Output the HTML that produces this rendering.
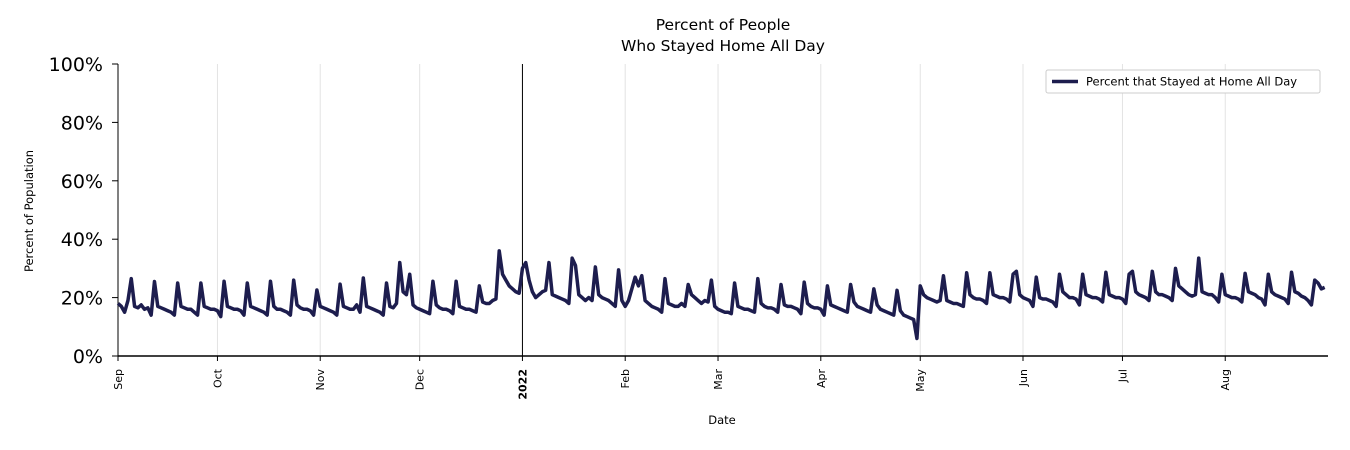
<!DOCTYPE html>
<html><head><meta charset="utf-8"><style>
body{margin:0;background:#fff}
svg{display:block;font-family:"DejaVu Sans","Liberation Sans",sans-serif}
</style></head><body>
<svg id="chart" width="1350" height="450" xmlns="http://www.w3.org/2000/svg">
<text x="723" y="30" text-anchor="middle" font-size="15.5">Percent of People</text>
<text x="723" y="51" text-anchor="middle" font-size="15.5">Who Stayed Home All Day</text>
<g id="grid"></g><g id="yaxis"></g><g id="xaxis"></g><g id="series"></g>
<text x="722" y="424" text-anchor="middle" font-size="11.5">Date</text>
<text transform="translate(33,211) rotate(-90)" text-anchor="middle" font-size="11.5">Percent of Population</text>
<g>
<rect x="1046" y="70" width="274" height="23" rx="2" fill="#fff" stroke="#ccc"/>
<line x1="1052" y1="81.5" x2="1078" y2="81.5" stroke="#1d1d4e" stroke-width="3.5"/>
<text x="1086" y="85.5" font-size="11.5">Percent that Stayed at Home All Day</text>
</g>
</svg>
<script>
const monthLabels=["Sep","Oct","Nov","Dec","2022","Feb","Mar","Apr","May","Jun","Jul","Aug"];
const monthDays=[0,30,61,91,122,153,181,212,242,273,303,334];
const yTicks=[0,20,40,60,80,100];
const values=[18,17,15,19,
26.5,17,16.5,17.5,16,16.5,14,
25.5,17,16.5,16,15.5,15,14,
25,17,16.5,16,16,15,14,
25,17,16.5,16,16,15.5,13.5,
25.6,17,16.5,16,16,15.5,14,
25,17,16.5,16,15.5,15,14,
25.6,17,16,16,15.5,15,14,
26,17.5,16.5,16,16,15.5,14,
22.6,17,16.5,16,15.5,15,14,
24.6,17,16.5,16,16,17.5,15,
26.7,17,16.5,16,15.5,15,14,
25,17,16.5,18,32,22,21,
28,17.5,16.5,16,15.5,15,14.5,
25.6,17.5,16.5,16,16,15.5,14.5,
25.6,17,16.5,16,16,15.5,15,
24,18.5,18,18,19,19.5,36,
28,26,24,23,22,21.5,30,
32,26,22,20,21,22,22.5,
32,21,20.5,20,19.5,19,18,
33.5,31,21,20,19,20,19,
30.5,21,20,19.5,19,18,17,
29.5,19,17,19,23,27,24,
27.5,19,18,17,16.5,16,15,
26.5,18,17.5,17,17,18,17,
24.5,21,20,19,18,19,18.5,
26,17,16,15.5,15,15,14.5,
25,17,16.5,16,16,15.5,15,
26.5,18,17,16.5,16.5,16,15,
24.5,17.5,17,17,16.5,16,14.5,
25.3,18,17,16.5,16.5,16,14,
24,17.5,17,16.5,16,15.5,15,
24.5,18.5,17,16.5,16,15.5,15,
23,17.5,16,15.5,15,14.5,14,
22.5,15.5,14,13.5,13,12.5,6,
24,21,20,19.5,19,18.5,19,
27.5,19,18.5,18,18,17.5,17,
28.5,21,20,19.5,19.5,19,18,
28.5,21,20.5,20,20,19.5,18.5,
28,29,21,20,19.5,19,17,
27,20,19.5,19.5,19,18.5,17,
28,22,21,20,20,19.5,17.5,
28,21,20.5,20,20,19.5,18.5,
28.7,21,20.5,20,20,19.5,18,
28,29,22,21,20.5,20,19,
29,22,21,21,20.5,20,19,
30,24,23,22,21,20.5,21,
33.5,22,21.5,21,21,20,18.5,
28,21,20.5,20,20,19.5,18.5,
28.3,22,21.5,21,20,19.5,17.5,
28,22,21,20.5,20,19.5,18,
28.7,22,21.5,20.5,20,19,17.5,
26,25,23,23.5];
const NS="http://www.w3.org/2000/svg";
const X0=118,X1=1328,Y0=356,Y1=64,NDAYS=365;
function xs(d){return X0+d*(X1-X0)/NDAYS;}
function ys(v){return Y0-(v/100)*(Y0-Y1);}
function mk(tag,attrs,parent){const e=document.createElementNS(NS,tag);for(const k in attrs)e.setAttribute(k,attrs[k]);parent.appendChild(e);return e;}
const grid=document.getElementById('grid'),ya=document.getElementById('yaxis'),xa=document.getElementById('xaxis'),se=document.getElementById('series');
monthDays.forEach((d,i)=>{
  const x=xs(d);
  const g=mk('line',{x1:x,y1:Y1,x2:x,y2:Y0,stroke:i===4?'#000':'#e3e3e3','stroke-width':1},grid);
  
  
  const t=mk('line',{x1:x,y1:Y0,x2:x,y2:Y0+5,stroke:'#000'},xa);
  
  
  const l=mk('text',{transform:`translate(${x+4},369) rotate(-90)`,'text-anchor':'end','font-size':'11','font-weight':i===4?'bold':'normal'},xa);
  l.textContent=monthLabels[i];
  
  
});
yTicks.forEach(v=>{
  const y=ys(v);
  const t=mk('line',{x1:X0-6,y1:y,x2:X0,y2:y,stroke:'#000'},ya);
  
  
  const l=mk('text',{x:X0-15,y:y+7,'text-anchor':'end','font-size':'19'},ya);
  l.textContent=v+'%';
  
  
});
const sp=mk('line',{x1:X0,y1:Y1,x2:X0,y2:Y0,stroke:'#000'},ya);


const sb=mk('line',{x1:X0,y1:Y0,x2:X1,y2:Y0,stroke:'#000','stroke-width':1.5},xa);


const pts=values.map((v,i)=>xs(i).toFixed(2)+','+ys(v).toFixed(2)).join(' ');
const pl=mk('polyline',{points:pts,fill:'none',stroke:'#1d1d4e','stroke-width':3.5,'stroke-linejoin':'round'},se);


</script>
</body></html>
